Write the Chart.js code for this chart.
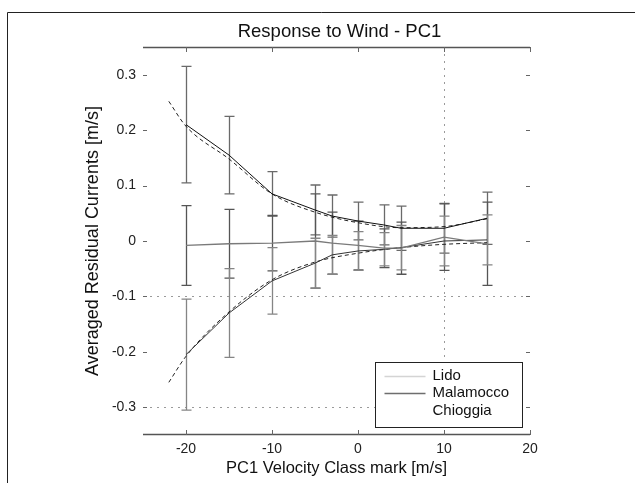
<!DOCTYPE html>
<html>
<head>
<meta charset="utf-8">
<script src="https://cdn.jsdelivr.net/npm/chart.js@4"></script>
<style>
  html, body { margin: 0; padding: 0; background: #fff; }
  #wrap { width: 635px; height: 483px; position: relative; }
</style>
</head>
<body>
<div id="wrap"><canvas id="c" width="635" height="483"></canvas></div>
<script>
// ---- data ----
const classMarks = [-20, -15, -10, -5, -3, 0, 3, 5, 10, 15];

const chioggiaMean = [0.21, 0.155, 0.085, 0.056, 0.045, 0.036, 0.029, 0.023, 0.023, 0.041];
const chioggiaErr  = [0.105, 0.07, 0.04, 0.045, 0.038, 0.034, 0.036, 0.04, 0.045, 0.047];

const malamoccoMean = [-0.008, -0.005, -0.004, 0.0, -0.004, -0.008, -0.013, -0.013, 0.007, -0.005];
const malamoccoErr  = [0.072, 0.062, 0.05, 0.085, 0.056, 0.044, 0.035, 0.047, 0.06, 0.075];

const lidoMean = [-0.205, -0.13, -0.072, -0.04, -0.025, -0.018, -0.015, -0.012, 0.0, 0.002];
const lidoErr  = [0.1, 0.08, 0.06, 0.045, 0.035, 0.035, 0.03, 0.04, 0.045, 0.045];

const fitX        = [-22, -20, -15, -10, -5, 0, 5, 10, 15];
const chioggiaFit = [0.252, 0.207, 0.148, 0.085, 0.052, 0.033, 0.024, 0.026, 0.04];
const lidoFit     = [-0.255, -0.208, -0.128, -0.07, -0.038, -0.022, -0.012, -0.006, -0.003];

const seriesNames = ['Lido', 'Malamocco', 'Chioggia'];
const chartTitle = 'Response to Wind - PC1';
const xTickValues = [-20, -10, 0, 10, 20];
const yTickValues = [-0.3, -0.2, -0.1, 0, 0.1, 0.2, 0.3];
const gridYValues = [-0.1, -0.3];
const gridXValues = [10];

const FONT = "'Liberation Sans', Arial, Helvetica, sans-serif";

function pts(xs, ys) { return xs.map((x, i) => ({ x: x, y: ys[i] })); }

const legendSamples = ['#d4d4d4', '#6e6e6e', 'rgba(0,0,0,0)'];

const decorPlugin = {
  id: 'decor',
  beforeDraw(chart) {
    const ctx = chart.ctx, ca = chart.chartArea;
    ctx.save();
    ctx.strokeStyle = '#222';
    ctx.lineWidth = 1;
    ctx.beginPath();
    ctx.moveTo(7.5, 483); ctx.lineTo(7.5, 12.5); ctx.lineTo(635, 12.5);
    ctx.stroke();
    ctx.font = '18.5px ' + FONT;
    ctx.fillStyle = '#111';
    ctx.textAlign = 'center';
    ctx.textBaseline = 'middle';
    ctx.fillText(chartTitle, (ca.left + ca.right) / 2 + 3, 32);
    ctx.restore();
  },
  beforeDatasetsDraw(chart) {
    const ctx = chart.ctx, ca = chart.chartArea;
    const xs = chart.scales.x, ys = chart.scales.y;
    ctx.save();
    ctx.strokeStyle = '#9a9a9a';
    ctx.lineWidth = 1;
    ctx.setLineDash([2, 5]);
    gridYValues.forEach(v => {
      const y = Math.round(ys.getPixelForValue(v)) + 0.5;
      ctx.beginPath(); ctx.moveTo(ca.left, y); ctx.lineTo(ca.right, y); ctx.stroke();
    });
    gridXValues.forEach(v => {
      const x = Math.round(xs.getPixelForValue(v)) + 0.5;
      ctx.beginPath(); ctx.moveTo(x, ca.top); ctx.lineTo(x, ca.bottom); ctx.stroke();
    });
    ctx.setLineDash([]);
    // error bars
    chart.data.datasets.forEach(ds => {
      if (!ds.errors) return;
      ctx.strokeStyle = ds.errorColor;
      ctx.lineWidth = 1.3;
      ds.data.forEach((p, i) => {
        const e = ds.errors[i];
        const x = Math.round(xs.getPixelForValue(p.x)) + 0.5;
        const yT = ys.getPixelForValue(p.y + e);
        const yB = ys.getPixelForValue(p.y - e);
        ctx.beginPath();
        ctx.moveTo(x, yT); ctx.lineTo(x, yB);
        ctx.moveTo(x - 5, yT); ctx.lineTo(x + 5, yT);
        ctx.moveTo(x - 5, yB); ctx.lineTo(x + 5, yB);
        ctx.stroke();
      });
    });
    ctx.restore();
  },
  afterDatasetsDraw(chart) {
    const ctx = chart.ctx, ca = chart.chartArea;
    const xs = chart.scales.x, ys = chart.scales.y;
    ctx.save();
    // top & bottom axis lines
    ctx.strokeStyle = '#555';
    ctx.lineWidth = 1.5;
    ctx.beginPath();
    ctx.moveTo(ca.left, ca.top + 0.5); ctx.lineTo(ca.right, ca.top + 0.5);
    ctx.moveTo(ca.left, ca.bottom - 0.5); ctx.lineTo(ca.right, ca.bottom - 0.5);
    ctx.stroke();
    // inward ticks
    ctx.lineWidth = 1;
    ctx.strokeStyle = '#666';
    ctx.beginPath();
    xTickValues.forEach(v => {
      const x = Math.round(xs.getPixelForValue(v)) + 0.5;
      ctx.moveTo(x, ca.bottom); ctx.lineTo(x, ca.bottom - 5);
      ctx.moveTo(x, ca.top); ctx.lineTo(x, ca.top + 5);
    });
    yTickValues.forEach(v => {
      const y = Math.round(ys.getPixelForValue(v)) + 0.5;
      ctx.moveTo(ca.left, y); ctx.lineTo(ca.left + 4, y);
      ctx.moveTo(ca.right, y); ctx.lineTo(ca.right - 4, y);
    });
    ctx.stroke();
    // legend
    const w = 147, h = 65;
    const L = Math.round(ca.right - 8 - w) + 0.5, T = Math.round(ca.bottom - 8 - h) + 0.5;
    ctx.fillStyle = '#fff';
    ctx.fillRect(L, T, w, h);
    ctx.strokeStyle = '#222';
    ctx.lineWidth = 1;
    ctx.strokeRect(L, T, w, h);
    ctx.font = '15px ' + FONT;
    ctx.fillStyle = '#111';
    ctx.textBaseline = 'middle';
    ctx.textAlign = 'left';
    seriesNames.forEach((name, i) => {
      const y = T + 13 + i * 17.5;
      ctx.strokeStyle = legendSamples[i];
      ctx.lineWidth = 1.3;
      ctx.beginPath(); ctx.moveTo(L + 9, Math.round(y) + 0.5); ctx.lineTo(L + 50, Math.round(y) + 0.5); ctx.stroke();
      ctx.fillText(name, L + 57, y);
    });
    ctx.restore();
  }
};

const chart = new Chart(document.getElementById('c'), {
  type: 'scatter',
  data: {
    datasets: [
      { label: 'Chioggia', data: pts(classMarks, chioggiaMean), errors: chioggiaErr, errorColor: '#6a6a6a',
        showLine: true, borderColor: '#111', borderWidth: 1, pointRadius: 0, tension: 0 },
      { label: 'Malamocco', data: pts(classMarks, malamoccoMean), errors: malamoccoErr, errorColor: '#555',
        showLine: true, borderColor: '#7a7a7a', borderWidth: 1.3, pointRadius: 0, tension: 0 },
      { label: 'Lido', data: pts(classMarks, lidoMean), errors: lidoErr, errorColor: '#858585',
        showLine: true, borderColor: '#333', borderWidth: 1, pointRadius: 0, tension: 0 },
      { label: 'Chioggia fit', data: pts(fitX, chioggiaFit),
        showLine: true, borderColor: '#222', borderWidth: 1, borderDash: [4, 3], pointRadius: 0,
        cubicInterpolationMode: 'monotone' },
      { label: 'Lido fit', data: pts(fitX, lidoFit),
        showLine: true, borderColor: '#222', borderWidth: 1, borderDash: [4, 3], pointRadius: 0,
        cubicInterpolationMode: 'monotone' }
    ]
  },
  options: {
    responsive: false,
    animation: false,
    devicePixelRatio: 1,
    layout: { padding: { left: 0, right: 105, top: 47, bottom: 0 } },
    plugins: {
      legend: { display: false },
      tooltip: { enabled: false },
      title: { display: false }
    },
    scales: {
      x: {
        type: 'linear', min: -25, max: 20,
        afterBuildTicks: s => { s.ticks = xTickValues.map(v => ({ value: v })); },
        afterFit: s => { s.height = 48; },
        grid: { display: false, drawTicks: false },
        border: { display: false },
        ticks: { color: '#222', font: { family: FONT, size: 14 }, padding: 6, maxRotation: 0,
                 callback: v => String(v) },
        title: { display: true, text: 'PC1 Velocity Class mark [m/s]', color: '#111',
                 font: { family: FONT, size: 16.5 }, padding: { top: 0, bottom: 5 } }
      },
      y: {
        type: 'linear', min: -0.35, max: 0.35,
        afterBuildTicks: s => { s.ticks = yTickValues.map(v => ({ value: v })); },
        afterFit: s => { s.width = 143; },
        grid: { display: false, drawTicks: false },
        border: { display: false },
        ticks: { color: '#222', font: { family: FONT, size: 14 }, padding: 7,
                 callback: v => (Math.abs(v) < 1e-9 ? '0' : v.toFixed(1)) },
        title: { display: true, text: 'Averaged Residual Currents [m/s]', color: '#111',
                 font: { family: FONT, size: 18 }, padding: { top: 82, bottom: 0 } }
      }
    }
  },
  plugins: [decorPlugin]
});
</script>
</body>
</html>
